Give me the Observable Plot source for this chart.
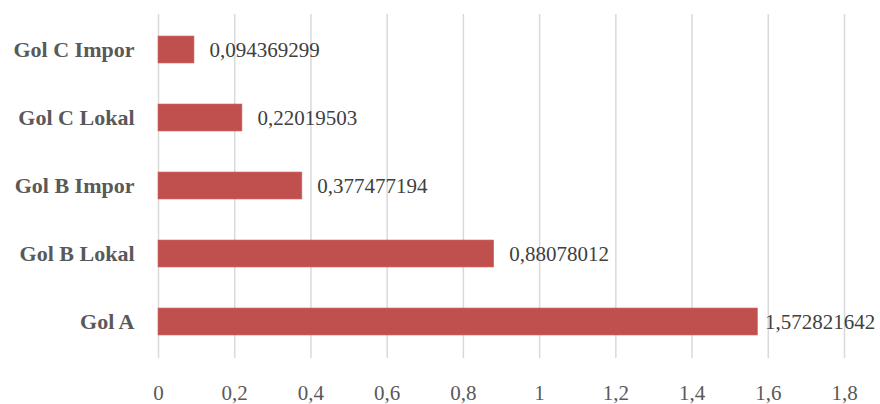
<!DOCTYPE html>
<html>
<head>
<meta charset="utf-8">
<script src="https://cdn.jsdelivr.net/npm/d3@7"></script>
<script src="https://cdn.jsdelivr.net/npm/@observablehq/plot@0.6"></script>
<style>
  html, body { margin: 0; padding: 0; background: #fff; }
  #chart svg { display: block; }
</style>
</head>
<body>
<div id="chart"></div>
<script>
const categories = ["Gol C Impor", "Gol C Lokal", "Gol B Impor", "Gol B Lokal", "Gol A"];
const values = [0.094369299, 0.22019503, 0.377477194, 0.88078012, 1.572821642];
const xTicks = [0, 0.2, 0.4, 0.6, 0.8, 1, 1.2, 1.4, 1.6, 1.8];

const data = categories.map((c, i) => ({ cat: c, val: values[i] }));
const fmt = v => String(v).replace(".", ",");
const inner = data.filter(d => d.cat !== "Gol A");
const last = data.filter(d => d.cat === "Gol A");

const chart = Plot.plot({
  width: 880,
  height: 404,
  marginLeft: 158,
  marginRight: 36,
  marginTop: 14,
  marginBottom: 46,
  style: { fontFamily: "'Liberation Serif', serif", background: "#fff", overflow: "visible" },
  x: { domain: [0, 1.8], ticks: xTicks, tickFormat: fmt, label: null },
  y: { domain: categories, paddingInner: 0.6, paddingOuter: 0.3, label: null },
  marks: [
    Plot.gridX(xTicks, { stroke: "#d9d9d9", strokeOpacity: 1, strokeWidth: 1.5 }),
    Plot.barX(data, { x: "val", y: "cat", fill: "#c0504d", stroke: "#d06a67", strokeWidth: 0.6 }),
    Plot.text(inner, { x: "val", y: "cat", text: d => fmt(d.val), textAnchor: "start", dx: 15, fill: "#404040", fontSize: 21 }),
    Plot.text(last, { x: "val", y: "cat", text: d => fmt(d.val), textAnchor: "start", dx: 7, fill: "#404040", fontSize: 21 }),
    Plot.axisX({ ticks: xTicks, tickFormat: fmt, tickSize: 0, tickPadding: 27, fontSize: 21, fill: "#595959", label: null }),
    Plot.axisY({ tickSize: 0, tickPadding: 24, fontSize: 22, fontWeight: "bold", fill: "#595959", label: null })
  ]
});
document.getElementById("chart").appendChild(chart);
</script>
</body>
</html>
